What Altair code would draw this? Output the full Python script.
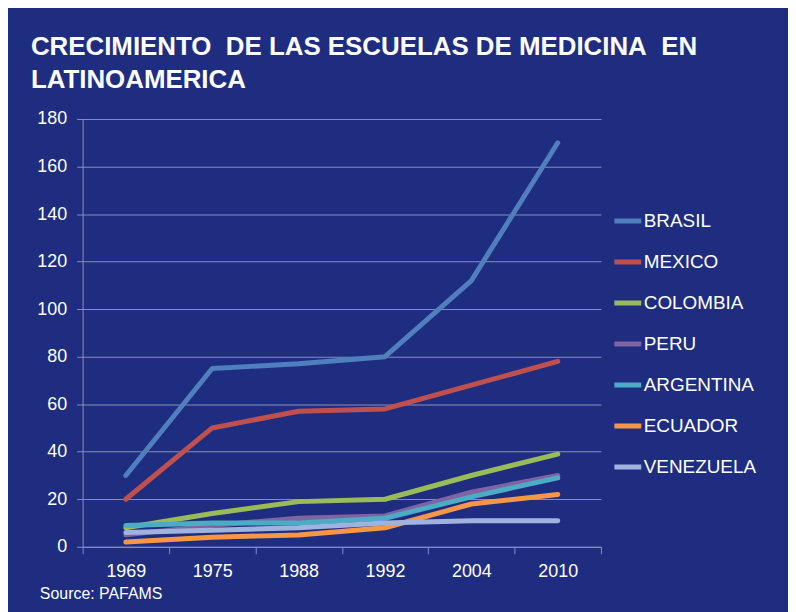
import altair as alt
import pandas as pd

years = ["1969", "1975", "1988", "1992", "2004", "2010"]
countries = ["BRASIL", "MEXICO", "COLOMBIA", "PERU", "ARGENTINA", "ECUADOR", "VENEZUELA"]
brasil = [30, 75, 77, 80, 112, 170]
mexico = [20, 50, 57, 58, 68, 78]
colombia = [8, 14, 19, 20, 30, 39]
peru = [5, 9, 12, 13, 23, 30]
argentina = [9, 10, 10, 12, 21, 29]
ecuador = [2, 4, 5, 8, 18, 22]
venezuela = [6, 7, 8, 10, 11, 11]
colors = ["#4f7fbd", "#c0504d", "#9bbb59", "#8064a2", "#4bacc6", "#f79646", "#9fb3df"]
title_lines = ["CRECIMIENTO\u00a0 DE LAS ESCUELAS DE MEDICINA\u00a0 EN", "LATINOAMERICA"]
source = "Source: PAFAMS"

series = [brasil, mexico, colombia, peru, argentina, ecuador, venezuela]
rows = []
for c, vals in zip(countries, series):
    for y, v in zip(years, vals):
        rows.append({"country": c, "year": y, "value": v})
df = pd.DataFrame(rows)

W, H = 521, 430
FONT = "Liberation Sans"
GRID = "#8890b8"

lines = alt.Chart(df).mark_line(strokeWidth=5, strokeCap="round", strokeJoin="round").encode(
    x=alt.X("year:N", sort=years,
            scale=alt.Scale(type="band", paddingInner=0, paddingOuter=0),
            bandPosition=0.5,
            axis=alt.Axis(title=None, labelAngle=0, tickBand="extent", grid=False,
                          domainColor=GRID, tickColor=GRID, tickSize=7,
                          labelPadding=9, labelFontSize=18, labelColor="white", labelFont=FONT)),
    y=alt.Y("value:Q", scale=alt.Scale(domain=[0, 180], nice=False),
            axis=alt.Axis(title=None, values=list(range(0, 181, 20)), grid=True,
                          gridColor=GRID, gridWidth=1, domainColor=GRID, tickColor=GRID,
                          tickSize=6, labelPadding=10, labelFontSize=18,
                          labelColor="white", labelFont=FONT)),
    color=alt.Color("country:N", sort=countries,
                    scale=alt.Scale(domain=countries, range=colors),
                    legend=alt.Legend(title=None, orient="none", legendX=532, legendY=89,
                                      symbolType="stroke", symbolSize=729, symbolStrokeWidth=5,
                                      labelFontSize=19, labelColor="white", labelFont=FONT,
                                      labelOffset=0, rowPadding=14.2, clipHeight=27, padding=0)),
    order=alt.Order("year:N"),
)

src = alt.Chart(pd.DataFrame({"t": [source]})).mark_text(
    align="left", baseline="middle", fontSize=16, font=FONT, color="white"
).encode(text="t:N", x=alt.value(-43), y=alt.value(477))

chart = alt.layer(lines, src).properties(
    width=W, height=H,
    title=alt.TitleParams(title_lines, anchor="start", frame="group", dx=-52, dy=-13,
                          fontSize=26, font=FONT, fontWeight="bold", color="white",
                          lineHeight=33),
    autosize=alt.AutoSizeParams(type="none"),
    padding={"left": 75, "top": 110, "right": 188, "bottom": 64},
    background="#1f2d80",
).configure_view(stroke=None)

chart.save("out.html", embed_options={"renderer": "svg", "actions": False})
